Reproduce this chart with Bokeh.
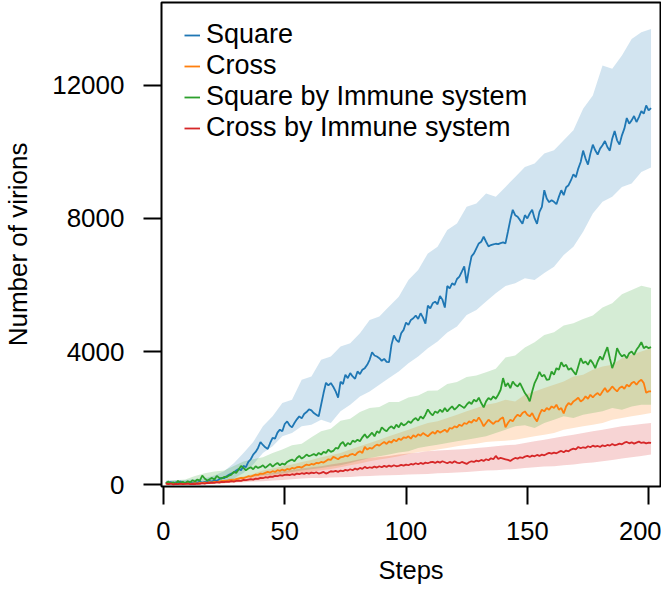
from bokeh.plotting import figure
from bokeh.models import FixedTicker, Legend, LegendItem
from bokeh.embed import file_html
from bokeh.resources import INLINE

steps = list(range(1, 202))
band_steps = list(range(1, 202, 4))

series_names = ["Square", "Cross", "Square by Immune system", "Cross by Immune system"]
colors = ["#1f77b4", "#ff7f0e", "#2ca02c", "#d62728"]

square_mean = [
    60, 20, 80, 30, 70, 40, 90, 30, 60, 50,
    80, 40, 70, 60, 90, 50, 80, 70, 110, 90,
    130, 110, 160, 200, 190, 250, 290, 330, 360, 420,
    470, 430, 560, 520, 680, 760, 900, 980, 1100, 1280,
    1190, 1120, 1070, 1250, 1400, 1380, 1560, 1650, 1600, 1820,
    1900, 1780, 1720, 1850, 1960, 2050, 1990, 2120, 2180, 2260,
    2230, 2150, 2100, 2050, 2400, 2750, 3060, 2980, 3050, 2940,
    2800, 2610, 3090, 3020, 3300, 3200, 3350, 3250, 3180, 3400,
    3320, 3450, 3500, 3600, 3750, 3980, 3880, 3850, 3800, 3720,
    3780, 3690, 3680, 4200, 4480, 4350, 4280, 4550, 4650, 4870,
    4800, 4950, 5000, 5080, 4980, 5150, 5020, 4840, 5380, 5300,
    5450, 5500, 5420, 5670, 5560, 5320, 5970, 5900, 6050, 6000,
    6180, 6250, 6400, 6560, 6060, 6500, 6860, 6950, 7100, 7250,
    7300, 7450, 7300, 7160, 7200, 7220, 7240, 7230, 7260, 7280,
    7250, 7600, 7960, 8260, 8100, 8050, 7950, 7840, 8100, 8000,
    8150, 8260, 8000, 7840, 8200, 8350, 8850, 8600, 8490, 8550,
    8500, 8430, 8650, 8850, 8700, 8940, 9000, 9150, 9330, 9240,
    9500, 9700, 10040, 9800, 9620, 9950, 10220, 10050, 9920, 10100,
    10200, 10330, 10150, 10040, 10400, 10630, 10350, 10220, 10500, 10700,
    11020, 10850, 10950, 11080, 10900, 11050, 11230, 11150, 11400, 11250, 11320,
]
cross_mean = [
    30, 10, 40, 20, 30, 10, 20, 30, 20, 40,
    20, 30, 40, 30, 50, 40, 60, 50, 70, 60,
    80, 70, 90, 100, 110, 100, 130, 140, 130, 160,
    180, 200, 190, 220, 250, 240, 270, 300, 290, 330,
    320, 350, 380, 360, 400, 380, 430, 410, 450, 420,
    470, 450, 500, 480, 520, 530, 510, 560, 600, 580,
    620, 600, 650, 640, 680, 660, 710, 760, 740, 830,
    800, 760, 820, 830, 870, 850, 900, 920, 880, 960,
    1000, 950, 1130, 1050, 1100, 1080, 1150, 1200, 1170, 1230,
    1280, 1220, 1300, 1260, 1350, 1300, 1380, 1340, 1420, 1400,
    1450, 1380, 1480, 1430, 1510, 1470, 1550, 1500, 1450, 1520,
    1580, 1530, 1620, 1560, 1600, 1650, 1580, 1700, 1680, 1750,
    1720, 1800, 1760, 1850, 1820, 1900, 1860, 1950, 1900, 2020,
    1900, 1750, 1850, 1950, 1880, 1820, 1900, 1900, 1980, 2020,
    1720, 1850, 1950, 1900, 2020, 2100, 2050, 2150, 2200, 2100,
    2050, 2150, 2000, 1900, 2100, 2250, 2200, 2300, 2250, 2350,
    2300, 2400, 2250, 2300, 2140, 2350, 2450, 2400, 2500, 2550,
    2610, 2500, 2550, 2650, 2580, 2700, 2620, 2700, 2750, 2680,
    2800, 2900, 2780, 2850, 2950, 2870, 2800, 2900, 2950, 2880,
    3000, 2950, 3050, 3090, 3000, 3100, 3150, 3050, 2760, 2800, 2800,
]
square_immune_mean = [
    40, 90, 30, 70, 20, 110, 50, 80, 40, 100,
    60, 130, 90, 150, 120, 270, 180, 120, 160, 200,
    150, 260, 200, 180, 230, 220, 270, 300, 380, 350,
    450, 560, 500, 430, 480, 520, 460, 550, 500, 530,
    580, 500, 560, 620, 540, 600, 650, 580, 630, 600,
    680, 720, 750, 700, 800, 860, 780, 830, 900, 850,
    880, 920, 870, 950, 900, 980, 950, 1050, 980, 1010,
    1100, 1080, 1220, 1280, 1150, 1250, 1200, 1320, 1280, 1350,
    1300, 1420, 1510, 1400, 1480, 1560, 1450, 1600, 1550, 1720,
    1650, 1600, 1700, 1750, 1680, 1800, 1720, 1850, 1780, 1820,
    1900, 1850, 1950, 2000, 1920, 2050, 1980, 2100, 2260, 2150,
    2080, 2200, 2150, 2250, 2180, 2300, 2200, 2280, 2350, 2250,
    2320, 2400, 2350, 2300, 2400, 2480, 2420, 2550, 2500, 2610,
    2450, 2320, 2500, 2600, 2550, 2650, 2580, 2700, 2850, 3200,
    2950, 3050, 2900, 3100, 3000, 2950, 3050, 2900, 2750, 2650,
    2500, 2800, 3050, 3200, 3390, 3250, 3300, 3150, 3160, 3400,
    3300, 3500, 3450, 3680, 3550, 3600, 3450, 3500, 3400, 3300,
    3550, 3800, 3650, 3700, 3600, 3750, 3650, 3500, 3700, 3850,
    3750, 3950, 4130, 3800, 3500, 3700, 4100, 3950, 3850, 3900,
    3800, 3950, 4000, 3900, 4050, 4150, 4280, 4100, 4150, 4100, 4130,
]
cross_immune_mean = [
    40, 10, 30, 0, 20, 10, 30, 10, 20, 30,
    10, 20, 10, 30, 20, 40, 30, 50, 40, 60,
    50, 70, 60, 80, 70, 90, 80, 100, 90, 110,
    120, 110, 140, 130, 150, 160, 150, 180, 170, 200,
    190, 220, 210, 240, 230, 260, 250, 280, 270, 290,
    300, 280, 310, 290, 330, 310, 340, 320, 350, 330,
    360, 340, 370, 330, 350, 380, 330, 360, 400, 390,
    410, 380, 420, 400, 440, 420, 460, 430, 480, 450,
    500, 470, 530, 490, 520, 500, 540, 510, 550, 520,
    560, 530, 570, 540, 580, 550, 560, 590, 570, 600,
    580, 620, 600, 640, 610, 650, 620, 660, 640, 670,
    680, 650, 690, 660, 700, 670, 640, 680, 650, 700,
    660, 640, 680, 650, 620, 670, 700, 680, 720, 700,
    740, 710, 760, 730, 790, 760, 860, 770, 800, 780,
    760, 740, 710, 760, 800, 780, 820, 800, 840, 860,
    830, 870, 850, 890, 860, 900, 880, 920, 950, 930,
    960, 940, 980, 1010, 970, 1020, 1000, 1050, 1080, 1060,
    1130, 1090, 1120, 1100, 1150, 1120, 1170, 1140, 1160, 1130,
    1180, 1150, 1190, 1170, 1220, 1180, 1200, 1230, 1210, 1260,
    1280, 1240, 1270, 1230, 1260, 1290, 1250, 1270, 1240, 1260, 1250,
]

square_upper = [120, 130, 140, 160, 190, 270, 400, 640, 950, 1280, 1750, 2050, 2450, 2550, 3150,
                3250, 3750, 3850, 4150, 4250, 4550, 4950, 5050, 5350, 5650, 6150, 6450, 6950, 7150,
                7650, 7850, 8350, 8450, 8750, 8650, 8950, 9250, 9550, 9650, 9950, 10050, 10350,
                10650, 11300, 11700, 12600, 12500, 12900, 13400, 13600, 13700]
square_lower = [0, 10, 20, 20, 30, 40, 100, 180, 350, 600, 950, 1150, 1450, 1550, 1750, 1800, 1950,
                1850, 2200, 2400, 2650, 2800, 3000, 3200, 3400, 3650, 3850, 4100, 4300, 4570, 4750,
                5100, 5250, 5500, 5750, 5970, 6050, 6200, 6150, 6360, 6550, 6900, 7150, 7600, 8150,
                8500, 8650, 8950, 9050, 9400, 9530]
cross_upper = [50, 50, 60, 70, 90, 110, 150, 200, 250, 320, 420, 480, 550, 600, 680, 740, 820, 880,
               950, 1050, 1150, 1250, 1350, 1450, 1550, 1650, 1750, 1850, 1900, 2000, 2100, 2200,
               2300, 2400, 2450, 2550, 2500, 2700, 2800, 2900, 3000, 3100, 3250, 3300, 3450, 3550,
               3600, 3800, 3900, 4000, 4100]
cross_lower = [0, 0, 0, 10, 10, 20, 40, 60, 90, 120, 170, 220, 250, 290, 330, 380, 430, 470, 520,
               580, 630, 700, 750, 800, 850, 920, 980, 1000, 1050, 1100, 1150, 1200, 1230, 1280,
               1300, 1320, 1350, 1400, 1450, 1500, 1550, 1650, 1700, 1750, 1800, 1850, 1950, 2000,
               2050, 2100, 2150]
square_immune_upper = [100, 130, 150, 260, 340, 390, 420, 560, 690, 760, 820, 950, 1050, 1180, 1230,
                       1420, 1600, 1680, 1920, 1980, 2180, 2300, 2330, 2480, 2480, 2620, 2680, 2820,
                       2830, 3020, 3080, 3230, 3280, 3380, 3480, 3820, 3880, 4120, 4280, 4500, 4580,
                       4780, 4850, 4980, 5080, 5320, 5450, 5720, 5850, 5980, 5910]
square_immune_lower = [0, 0, 10, 20, 40, 60, 90, 130, 200, 240, 280, 300, 330, 380, 420, 460, 500,
                       540, 580, 650, 720, 800, 850, 900, 960, 1000, 1100, 1150, 1200, 1250, 1300,
                       1350, 1400, 1450, 1550, 1650, 1750, 1780, 1700, 1850, 1950, 2050, 2000, 2100,
                       2150, 2200, 2300, 2250, 2350, 2400, 2400]
cross_immune_upper = [60, 60, 60, 60, 70, 100, 140, 180, 230, 270, 300, 350, 400, 440, 480, 520, 550,
                      600, 650, 700, 760, 800, 830, 860, 900, 930, 960, 1000, 1020, 1040, 1050, 1070,
                      1100, 1120, 1150, 1180, 1200, 1250, 1300, 1350, 1400, 1450, 1500, 1550, 1600,
                      1650, 1700, 1750, 1780, 1820, 1850]
cross_immune_lower = [0, 0, 0, 0, 0, 20, 40, 60, 70, 90, 100, 120, 140, 160, 180, 200, 200, 210, 220,
                      230, 250, 260, 270, 280, 290, 300, 310, 320, 340, 350, 360, 380, 400, 420, 430,
                      450, 470, 500, 520, 540, 550, 580, 600, 640, 660, 700, 740, 780, 820, 860, 900]

x_ticks = [0, 50, 100, 150, 200]
y_ticks = [0, 4000, 8000, 12000]

means = [square_mean, cross_mean, square_immune_mean, cross_immune_mean]
uppers = [square_upper, cross_upper, square_immune_upper, cross_immune_upper]
lowers = [square_lower, cross_lower, square_immune_lower, cross_immune_lower]

FONT = "Liberation Sans"

p = figure(frame_width=499, frame_height=484,
           min_border_left=156, min_border_right=1, min_border_top=2, min_border_bottom=98,
           x_range=(-0.8, 204.9), y_range=(-59, 14494),
           output_backend="svg", toolbar_location=None)

for col, lo, hi in zip(colors, lowers, uppers):
    p.varea(x=band_steps, y1=lo, y2=hi, fill_color=col, fill_alpha=0.2)

items = []
for name, col, m in zip(series_names, colors, means):
    r = p.line(steps, m, line_color=col, line_width=1.8)
    items.append(LegendItem(label=name, renderers=[r]))

legend = Legend(items=items, location=(23, 343))
legend.border_line_color = None
legend.background_fill_alpha = 0
legend.padding = 0
legend.margin = 0
legend.spacing = -4
legend.label_height = 20
legend.glyph_height = 20
legend.glyph_width = 16
legend.label_standoff = 6
legend.label_text_font = FONT
legend.label_text_font_size = "27px"
legend.label_text_color = "black"
p.add_layout(legend, "center")

p.xgrid.visible = False
p.ygrid.visible = False
p.outline_line_color = "black"
p.outline_line_width = 2
p.outline_line_alpha = 1

for ax, fs in ((p.xaxis[0], "25.5px"), (p.yaxis[0], "26px")):
    ax.axis_line_color = None
    ax.major_tick_in = 0
    ax.major_tick_out = 18
    ax.major_tick_line_width = 2
    ax.major_tick_line_color = "black"
    ax.minor_tick_line_color = None
    ax.major_label_text_font = FONT
    ax.major_label_text_font_size = fs
    ax.major_label_text_color = "black"
    ax.axis_label_text_font = FONT
    ax.axis_label_text_font_size = fs
    ax.axis_label_text_font_style = "normal"
    ax.axis_label_text_color = "black"

p.xaxis[0].ticker = FixedTicker(ticks=x_ticks)
p.yaxis[0].ticker = FixedTicker(ticks=y_ticks)
p.xaxis[0].axis_label = "Steps"
p.yaxis[0].axis_label = "Number of virions"
p.xaxis[0].major_label_standoff = 17
p.xaxis[0].axis_label_standoff = 13
p.yaxis[0].major_label_standoff = 19
p.yaxis[0].axis_label_standoff = 16

open("out.html", "w").write(file_html(p, INLINE))
